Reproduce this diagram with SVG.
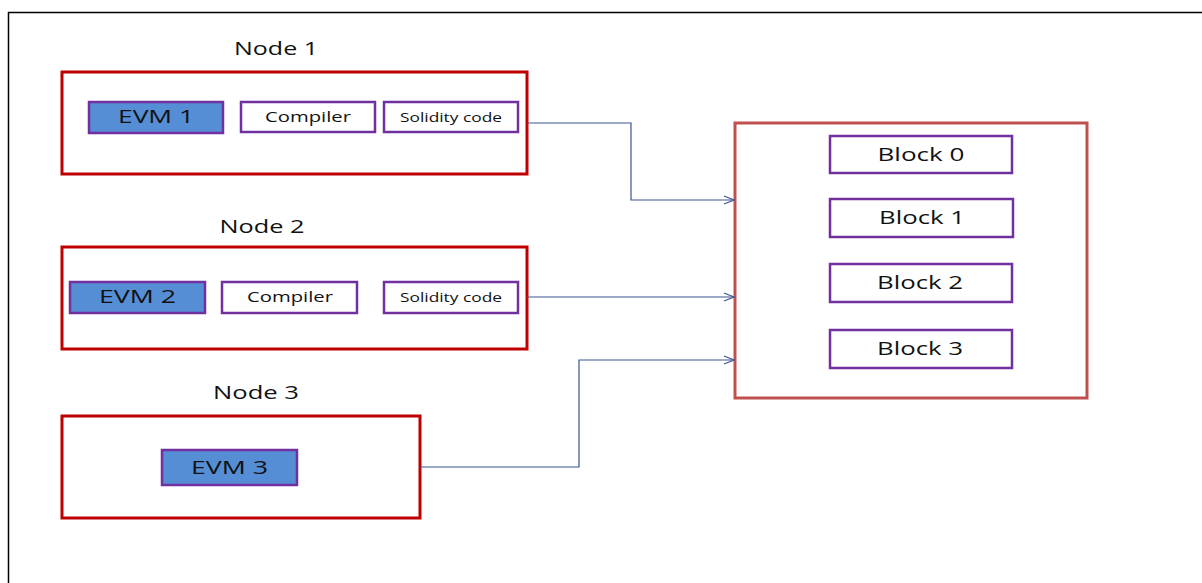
<svg xmlns="http://www.w3.org/2000/svg" width="1202" height="583" viewBox="0 0 1202 583">
<style>
text{font-family:"Open Sans","Noto Sans","Liberation Sans",sans-serif;fill:#111;text-anchor:middle}
.node{fill:#fff;stroke:#C00000;stroke-width:3}
.chain{fill:#fff;stroke:#C0504D;stroke-width:3}
.evm{fill:#558ED5;stroke:#7030A0;stroke-width:2.5}
.box{fill:#fff;stroke:#7030A0;stroke-width:2.5}
.lbl{font-size:18px}
.cmp{font-size:15px}
.sol{font-size:13px}
.conn{fill:none;stroke:#3A5590;stroke-width:1.2}
</style>
<defs>
<marker id="arr" markerWidth="12" markerHeight="10" refX="11" refY="5" orient="auto" markerUnits="userSpaceOnUse">
<path d="M1,1 L11,5 L1,9" fill="none" stroke="#3A5590" stroke-width="1.2"/>
</marker>
</defs>
<rect width="1202" height="583" fill="#fff"/>
<path d="M8.5,583 V12.5 H1202" fill="none" stroke="#000" stroke-width="1.5"/>
<g id="node1">
<text x="276" y="55" class="lbl" textLength="84" lengthAdjust="spacingAndGlyphs">Node 1</text>
<rect x="62" y="72" width="465" height="102" class="node"/>
<rect x="89" y="102" width="134" height="31" class="evm"/>
<text x="156" y="123" class="lbl" textLength="76" lengthAdjust="spacingAndGlyphs">EVM 1</text>
<rect x="241" y="102" width="134" height="30" class="box"/>
<text x="308" y="122" class="cmp" textLength="86" lengthAdjust="spacingAndGlyphs">Compiler</text>
<rect x="384" y="102" width="134" height="30" class="box"/>
<text x="451" y="122" class="sol" textLength="102" lengthAdjust="spacingAndGlyphs">Solidity code</text>
</g>
<g id="node2">
<text x="262" y="233" class="lbl" textLength="85" lengthAdjust="spacingAndGlyphs">Node 2</text>
<rect x="62" y="247" width="465" height="102" class="node"/>
<rect x="70" y="282" width="135" height="31" class="evm"/>
<text x="137.5" y="303" class="lbl" textLength="77" lengthAdjust="spacingAndGlyphs">EVM 2</text>
<rect x="222" y="282" width="135" height="31" class="box"/>
<text x="290" y="302" class="cmp" textLength="86" lengthAdjust="spacingAndGlyphs">Compiler</text>
<rect x="384" y="282" width="134" height="31" class="box"/>
<text x="451" y="302" class="sol" textLength="102" lengthAdjust="spacingAndGlyphs">Solidity code</text>
</g>
<g id="node3">
<text x="256" y="399" class="lbl" textLength="86" lengthAdjust="spacingAndGlyphs">Node 3</text>
<rect x="62" y="416" width="358" height="102" class="node"/>
<rect x="162" y="450" width="135" height="35" class="evm"/>
<text x="229.5" y="474" class="lbl" textLength="77" lengthAdjust="spacingAndGlyphs">EVM 3</text>
</g>
<g id="chain">
<rect x="735" y="123" width="352" height="275" class="chain"/>
</g>
<g id="block0">
<rect x="830" y="136" width="182" height="37" class="box"/>
<text x="921" y="161" class="lbl" textLength="87" lengthAdjust="spacingAndGlyphs">Block 0</text>
</g>
<g id="block1">
<rect x="830" y="199" width="183" height="38" class="box"/>
<text x="922" y="224" class="lbl" textLength="86" lengthAdjust="spacingAndGlyphs">Block 1</text>
</g>
<g id="block2">
<rect x="830" y="264" width="182" height="38" class="box"/>
<text x="920" y="289" class="lbl" textLength="86" lengthAdjust="spacingAndGlyphs">Block 2</text>
</g>
<g id="block3">
<rect x="830" y="330" width="182" height="38" class="box"/>
<text x="920" y="355" class="lbl" textLength="86" lengthAdjust="spacingAndGlyphs">Block 3</text>
</g>
<g id="connectors">
<path d="M527,123 H631 V200 H734" class="conn" marker-end="url(#arr)"/>
<path d="M527,297 H734" class="conn" marker-end="url(#arr)"/>
<path d="M420,467 H579 V360 H734" class="conn" marker-end="url(#arr)"/>
</g>
</svg>
